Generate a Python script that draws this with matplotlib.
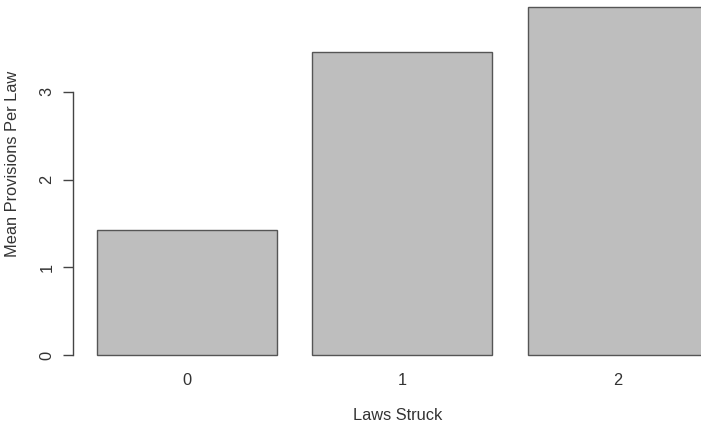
import matplotlib
matplotlib.use("Agg")
import matplotlib.pyplot as plt

categories = ["0", "1", "2"]
values = [1.425, 3.455, 3.97]
yticks = [0, 1, 2, 3]

plt.rcParams['font.family'] = ['Liberation Sans', 'DejaVu Sans']

W, H = 701, 429
fig = plt.figure(figsize=(W / 100, H / 100), dpi=100)

# plot region in pixel coordinates (R-like, extends past the right edge)
xlo, xhi = 0.064, 3.736
ylo, yhi = -0.159, 4.13
px_per_x = 179.5
px_per_y = 87.7
left_px = 97 - (0.2 - xlo) * px_per_x
right_px = left_px + (xhi - xlo) * px_per_x
bottom_px = 355 + (0 - ylo) * px_per_y
top_px = 355 - yhi * px_per_y
ax = fig.add_axes([left_px / W, (H - bottom_px) / H,
                   (right_px - left_px) / W, (bottom_px - top_px) / H])

centers = [0.7 + 1.2 * i for i in range(len(categories))]
ax.bar(centers, values, width=1.0, color='#bebebe', edgecolor='#555555', linewidth=1.0)
ax.set_xlim(xlo, xhi)
ax.set_ylim(ylo, yhi)

fs = 11.8
for s in ['top', 'right', 'bottom']:
    ax.spines[s].set_visible(False)
ax.spines['left'].set_bounds(0, 3)
ax.spines['left'].set_color('#444444')
ax.spines['left'].set_linewidth(1.0)

ax.set_yticks(yticks)
ax.set_yticklabels([str(t) for t in yticks], rotation=90, va='center', fontsize=fs, color='#333333')
ax.tick_params(axis='y', length=7, width=1.0, color='#444444', pad=6)

ax.set_xticks(centers)
ax.set_xticklabels(categories, fontsize=fs, color='#333333')
ax.tick_params(axis='x', length=0, pad=3)

fig.text(398 / W, 1 - 415 / H, "Laws Struck", ha='center', va='center', fontsize=fs, color='#333333')
fig.text(13 / W, 1 - 164 / H, "Mean Provisions Per Law", ha='center', va='center', rotation=90,
         fontsize=fs, color='#333333')

fig.savefig("out.png", dpi=100)
